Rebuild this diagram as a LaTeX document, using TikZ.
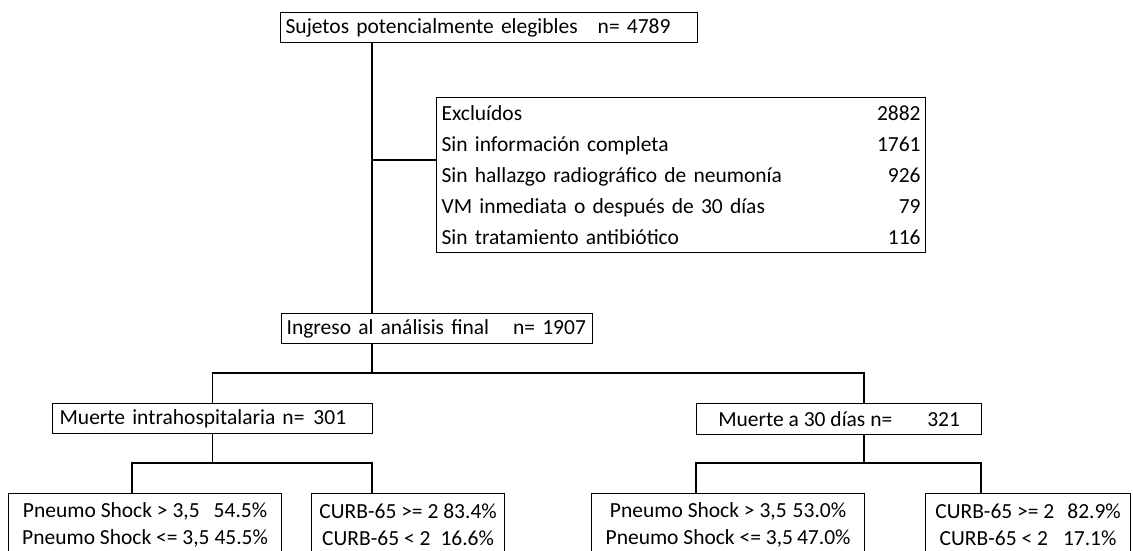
\documentclass[tikz,border=0pt]{standalone}
\usepackage{fontspec}
\setmainfont{Carlito}

\tikzset{
  caja/.style={draw, line width=1.2pt, inner ysep=0pt, inner xsep=5pt,
    anchor=north west, align=left, font=\fontsize{21.5}{27}\selectfont},
  cajac/.style={caja, align=center, minimum height=63pt},
  conector/.style={line width=1.2pt},
}

\begin{document}
\begin{tikzpicture}[x=1pt,y=-1pt]
    \clip (0,0) rectangle (1133,550);
    \fill[white] (0,0) rectangle (1133,550);

    % cajas principales
    \node[caja, text width=407pt, minimum height=30pt] (elig) at (280,12)
        {\mbox{Sujetos potencialmente elegibles\hspace{20pt}n= 4789}};

    \node[caja, text width=479pt, minimum height=155pt,
        font=\fontsize{21.5}{31}\selectfont] (excl) at (436,97)
        {Excluídos\hfill 2882\\
         Sin información completa\hfill 1761\\
         Sin hallazgo radiográfico de neumonía\hfill 926\\
         VM inmediata o después de 30 días\hfill 79\\
         Sin tratamiento antibiótico\hfill 116};

    \node[caja, text width=301pt, minimum height=30pt] (ingreso) at (281,313)
        {\mbox{Ingreso al análisis final\hspace{24pt}n= 1907}};

    \node[caja, text width=306pt, inner xsep=7pt, minimum height=30pt] (muerteH) at (52,403)
        {\mbox{Muerte intrahospitalaria n=\hspace{9pt}301}};
    \node[caja, minimum width=285pt, align=center, minimum height=31pt] (muerte30) at (696,403)
        {Muerte a 30 días n=\hspace{35pt}321};

    % cajas inferiores
    \node[cajac, minimum width=273pt] (psH) at (8,493)
        {Pneumo Shock > 3,5\hspace{14pt}54.5\%\\ Pneumo Shock <= 3,5 45.5\%};
    \node[cajac, minimum width=193pt] (cuH) at (311,493)
        {CURB-65 >= 2 83.4\%\\ CURB-65 < 2\hspace{10pt}16.6\%};
    \node[cajac, minimum width=273pt] (ps30) at (591,493)
        {Pneumo Shock > 3,5\hspace{6pt}53.0\%\\ Pneumo Shock <= 3,5\hspace{4pt}47.0\%};
    \node[cajac, minimum width=205pt] (cu30) at (925,493)
        {CURB-65 >= 2\hspace{13pt}82.9\%\\ CURB-65 < 2\hspace{15pt}17.1\%};

    % puntos de las ramas
    \coordinate (tronco) at (372,160);
    \coordinate (rama30) at (864,373);
    \coordinate (izqH) at (132,463);
    \coordinate (derH) at (372,463);
    \coordinate (izq30) at (696,463);
    \coordinate (der30) at (981,463);

    \draw[conector] (elig.south -| tronco) -- (ingreso.north -| tronco);
    \draw[conector] (tronco) -- (tronco -| excl.west);
    \draw[conector] (ingreso.south -| tronco) -- (tronco |- rama30);
    \draw[conector] (muerteH.north) |- (rama30) -- (muerte30.north -| rama30);

    \draw[conector] (muerteH.south) -- (muerteH.south |- izqH);
    \draw[conector] (psH.north -| izqH) |- (derH) -- (cuH.north -| derH);

    \draw[conector] (muerte30.south -| rama30) -- (rama30 |- izq30);
    \draw[conector] (ps30.north -| izq30) |- (der30) -- (cu30.north -| der30);
\end{tikzpicture}
\end{document}
